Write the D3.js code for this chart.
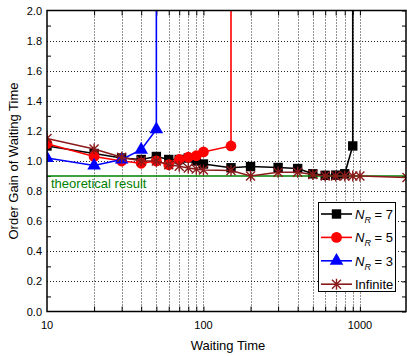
<!DOCTYPE html>
<html lang="en">
    <head>
        <title>Order Gain of Waiting Time</title>
        <meta charset="utf-8">
        <script src="https://d3js.org/d3.v7.min.js"></script>
        <style>
            * {
                margin: 0;
                padding: 0;
            }
            body {
                background-color: white;
                width: 407px;
                height: 356px;
                overflow: hidden;
            }
            text {
                font-family: "Liberation Sans", Arial, sans-serif;
            }
        </style>
    </head>
    <body>
        <main></main>
        <script>

            // waiting time values (x) and gains per curve; the last point of the
            // finite curves blows up off the top of the chart
            const xR7 = [10, 20, 30, 40, 50, 60, 70, 80, 90, 100, 150, 200, 300, 400, 500, 600, 700, 800, 900, 900];
            const yR7 = [1.10, 1.05, 1.02, 1.01, 1.03, 1.01, 1.01, 1.02, 1.00, 0.98, 0.955, 0.963, 0.957, 0.95, 0.915, 0.905, 0.906, 0.915, 1.10, 10];

            const xR5 = [10, 20, 30, 40, 50, 60, 70, 80, 90, 100, 150, 150];
            const yR5 = [1.115, 1.03, 1.00, 0.985, 1.00, 0.975, 1.01, 1.025, 1.035, 1.06, 1.10, 10];

            const xR3 = [10, 20, 30, 40, 50, 50];
            const yR3 = [1.02, 0.97, 1.01, 1.075, 1.21, 10];

            const xInf = [10, 20, 30, 40, 50, 60, 70, 80, 90, 100, 150, 200, 300, 400, 500, 600, 700, 800, 900, 1000, 2000];
            const yInf = [1.15, 1.08, 1.025, 1.00, 1.00, 0.975, 0.965, 0.953, 0.946, 0.94, 0.937, 0.90, 0.925, 0.925, 0.91, 0.90, 0.90, 0.90, 0.90, 0.90, 0.89];

            const theoretical = 0.9;

            const yTicks = [0.0, 0.2, 0.4, 0.6, 0.8, 1.0, 1.2, 1.4, 1.6, 1.8, 2.0];
            const xTickLabels = [10, 100, 1000];

            const w = 407;
            const h = 356;
            const pLeft = 47;
            const pRight = 406;
            const pTop = 10.5;
            const pBottom = 311.5;

            const xScale = d3.scaleLog()
                .domain([10, 2000])
                .range([pLeft, pRight + 1]);

            const yScale = d3.scaleLinear()
                .domain([0, 2])
                .range([pBottom, pTop]);

            const svg = d3.select("main")
                .append("svg")
                .attr("width", w)
                .attr("height", h);

            svg.append("defs")
                .append("clipPath")
                .attr("id", "plot")
                .append("rect")
                .attr("x", pLeft)
                .attr("y", pTop)
                .attr("width", pRight - pLeft)
                .attr("height", pBottom - pTop);

            // grid
            const minorX = [];
            [10, 100, 1000].forEach(d => {
                for (let k = 1; k < 10; k++) {
                    const v = d * k;
                    if (v > 10 && v < 2000) minorX.push(v);
                }
            });

            svg.append("g")
                .selectAll("line")
                .data(minorX)
                .enter()
                .append("line")
                .attr("x1", d => Math.round(xScale(d)) + 0.5)
                .attr("x2", d => Math.round(xScale(d)) + 0.5)
                .attr("y1", pTop)
                .attr("y2", pBottom)
                .attr("stroke", "#222")
                .attr("stroke-width", 1)
                .attr("stroke-dasharray", "1,2");

            svg.append("g")
                .selectAll("line")
                .data(yTicks.slice(1, -1))
                .enter()
                .append("line")
                .attr("x1", pLeft)
                .attr("x2", pRight)
                .attr("y1", d => Math.round(yScale(d)) + 0.5)
                .attr("y2", d => Math.round(yScale(d)) + 0.5)
                .attr("stroke", "#222")
                .attr("stroke-width", 1)
                .attr("stroke-dasharray", "1,2");

            // axes, ticks pointing inward
            svg.append("g")
                .attr("transform", `translate(0, ${pBottom})`)
                .call(d3.axisTop(xScale).tickValues(minorX).tickSize(5).tickFormat(""))
                .call(g => g.select(".domain").remove());

            svg.append("g")
                .attr("transform", `translate(0, ${pTop})`)
                .call(d3.axisBottom(xScale).tickValues(minorX).tickSize(5).tickFormat(""))
                .call(g => g.select(".domain").remove());

            const yMinor = d3.range(0.1, 2.0, 0.2);

            svg.append("g")
                .attr("transform", `translate(${pLeft}, 0)`)
                .call(d3.axisRight(yScale).tickValues(yMinor).tickSize(4).tickFormat(""))
                .call(g => g.select(".domain").remove());

            svg.append("g")
                .attr("transform", `translate(${pRight}, 0)`)
                .call(d3.axisLeft(yScale).tickValues(yMinor.concat(yTicks)).tickSize(4).tickFormat(""))
                .call(g => g.select(".domain").remove());

            // tick labels
            svg.append("g")
                .selectAll("text")
                .data(yTicks)
                .enter()
                .append("text")
                .attr("x", pLeft - 5)
                .attr("y", d => yScale(d) + 4)
                .attr("text-anchor", "end")
                .attr("font-size", "11px")
                .attr("fill", "black")
                .text(d => d.toFixed(1));

            svg.append("g")
                .selectAll("text")
                .data(xTickLabels)
                .enter()
                .append("text")
                .attr("x", d => xScale(d))
                .attr("y", pBottom + 17)
                .attr("text-anchor", "middle")
                .attr("font-size", "11px")
                .attr("fill", "black")
                .text(d => d);

            // series
            const plot = svg.append("g").attr("clip-path", "url(#plot)");

            const line = d3.line()
                .x(d => xScale(d[0]))
                .y(d => yScale(d[1]));

            const zip = (xs, ys) => xs.map((x, i) => [x, ys[i]]);

            const drawLine = (data, color) => {
                plot.append("path")
                    .datum(data)
                    .attr("d", line)
                    .attr("fill", "none")
                    .attr("stroke", color)
                    .attr("stroke-width", 1.6);
            };

            const marker = (g, type, color, cx, cy) => {
                if (type === "square") {
                    g.append("rect")
                        .attr("x", cx - 4.7).attr("y", cy - 4.7)
                        .attr("width", 9.4).attr("height", 9.4)
                        .attr("fill", color);
                } else if (type === "circle") {
                    g.append("circle")
                        .attr("cx", cx).attr("cy", cy).attr("r", 5.4)
                        .attr("fill", color);
                } else if (type === "triangle") {
                    g.append("path")
                        .attr("d", d3.symbol(d3.symbolTriangle, 80)())
                        .attr("transform", `translate(${cx}, ${cy})`)
                        .attr("fill", color);
                } else {
                    const s = 4.5;
                    g.append("path")
                        .attr("d", `M${cx - s},${cy - s}L${cx + s},${cy + s}M${cx - s},${cy + s}L${cx + s},${cy - s}M${cx},${cy - s - 1}L${cx},${cy + s + 1}`)
                        .attr("stroke", color)
                        .attr("stroke-width", 1.4)
                        .attr("fill", "none");
                }
            };

            const drawSeries = (data, color, type) => {
                drawLine(data, color);
                const g = plot.append("g");
                data.forEach(d => marker(g, type, color, xScale(d[0]), yScale(d[1])));
            };

            drawSeries(zip(xR7, yR7), "black", "square");
            drawSeries(zip(xR5, yR5), "#ff0000", "circle");
            drawSeries(zip(xR3, yR3), "#0000ff", "triangle");

            plot.append("line")
                .attr("x1", pLeft)
                .attr("x2", pRight)
                .attr("y1", yScale(theoretical))
                .attr("y2", yScale(theoretical))
                .attr("stroke", "#008000")
                .attr("stroke-width", 1.6);

            drawSeries(zip(xInf, yInf), "#8b1a1a", "star");

            svg.append("text")
                .attr("x", pLeft + 4)
                .attr("y", yScale(theoretical) + 12)
                .attr("font-size", "13px")
                .attr("fill", "#008000")
                .text("theoretical result");

            // frame
            svg.append("rect")
                .attr("x", pLeft)
                .attr("y", pTop)
                .attr("width", pRight - pLeft)
                .attr("height", pBottom - pTop)
                .attr("fill", "none")
                .attr("stroke", "black")
                .attr("stroke-width", 1.5);

            // axis titles
            svg.append("text")
                .attr("x", 228)
                .attr("y", 350)
                .attr("text-anchor", "middle")
                .attr("font-size", "13px")
                .attr("fill", "black")
                .text("Waiting Time");

            svg.append("text")
                .attr("transform", `translate(18, ${(pTop + pBottom) / 2}) rotate(-90)`)
                .attr("text-anchor", "middle")
                .attr("font-size", "13px")
                .attr("fill", "black")
                .text("Order Gain of Waiting Time");

            // legend
            const legendItems = [
                {label: "7", color: "black", type: "square"},
                {label: "5", color: "#ff0000", type: "circle"},
                {label: "3", color: "#0000ff", type: "triangle"},
                {label: null, color: "#8b1a1a", type: "star"}
            ];

            const legend = svg.append("g");

            legend.append("rect")
                .attr("x", 318.5)
                .attr("y", 202.5)
                .attr("width", 77)
                .attr("height", 89)
                .attr("fill", "white")
                .attr("stroke", "black")
                .attr("stroke-width", 1);

            legendItems.forEach((d, i) => {
                const cy = 214 + i * 23.4;
                legend.append("line")
                    .attr("x1", 321)
                    .attr("x2", 352)
                    .attr("y1", cy)
                    .attr("y2", cy)
                    .attr("stroke", d.color)
                    .attr("stroke-width", 1.6);
                marker(legend, d.type, d.color, 336.5, cy);

                const t = legend.append("text")
                    .attr("x", 355)
                    .attr("y", cy + 5)
                    .attr("font-size", "13px")
                    .attr("fill", "black");
                if (d.label) {
                    t.append("tspan").attr("font-style", "italic").text("N");
                    t.append("tspan").attr("font-style", "italic").attr("font-size", "9px").attr("dy", 4).text("R");
                    t.append("tspan").attr("dy", -4).text(" = " + d.label);
                } else {
                    t.text("Infinite");
                }
            });

        </script>
    </body>
</html>
